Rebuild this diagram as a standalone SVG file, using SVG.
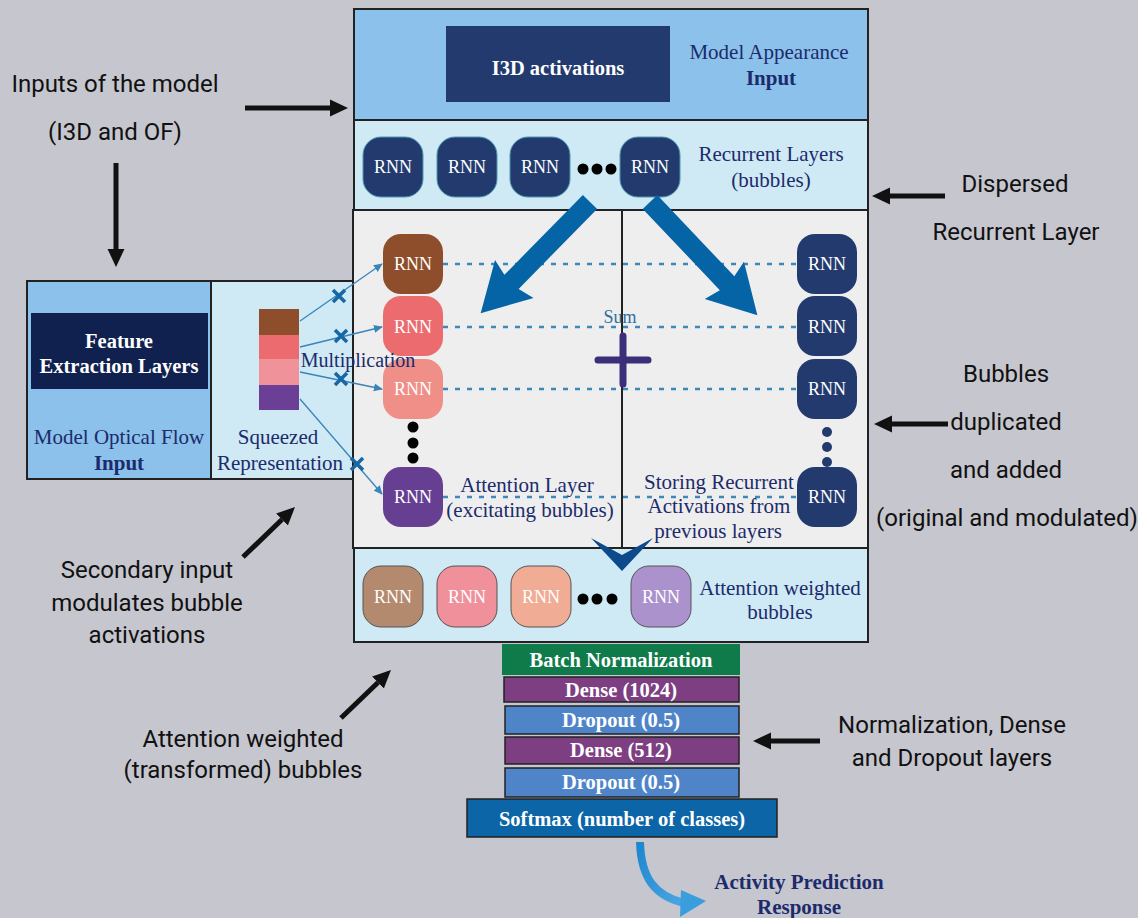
<svg xmlns="http://www.w3.org/2000/svg" width="1138" height="918" viewBox="0 0 1138 918">
<defs>
<style>
.bg{fill:#c6c6ce}
.sec{stroke:#222;stroke-width:2}
.mid{fill:#8bc1ea}
.lt{fill:#cfe9f5}
.gr{fill:#eeeeee}
.nav{fill:#1c2b6b;font-family:"Liberation Serif",serif;font-size:21px;text-anchor:middle}
.b{font-weight:bold}
.wt{fill:#ffffff;font-family:"Liberation Serif",serif;text-anchor:middle;font-size:20.5px}
.rnn{fill:#ffffff;font-family:"Liberation Serif",serif;font-size:18px;text-anchor:middle}
.ann{fill:#111;font-family:Roboto,"Noto Sans",sans-serif;font-size:24px;text-anchor:middle}
.blk{stroke:#111;stroke-width:5;fill:none}
.thin{stroke:#3a85b8;stroke-width:1.3;fill:none}
.dot{stroke:#3f87b8;stroke-width:2.5;stroke-dasharray:5 7;fill:none}
.x{stroke:#1767a5;stroke-width:3.5;fill:none}
.stk{stroke:#222;stroke-width:1.5}
</style>
<marker id="ah" viewBox="0 0 10 10" refX="0" refY="5" markerWidth="18" markerHeight="18" markerUnits="userSpaceOnUse" orient="auto"><path d="M0,0.3 L10,5 L0,9.7 z" fill="#111"/></marker>
<marker id="bh" viewBox="0 0 10 10" refX="9" refY="5" markerWidth="9" markerHeight="9" markerUnits="userSpaceOnUse" orient="auto"><path d="M0,0.5 L10,5 L0,9.5 z" fill="#3a85b8"/></marker>
<linearGradient id="cg" x1="0" y1="0" x2="1" y2="1"><stop offset="0" stop-color="#1e86cf"/><stop offset="1" stop-color="#4aa6e2"/></linearGradient>
</defs>
<rect class="bg" x="0" y="0" width="1138" height="918"/>

<g id="appearance">
<rect class="mid sec" x="354" y="9" width="514" height="111"/>
<rect x="446" y="26" width="224" height="76" fill="#233a6e"/>
<text class="wt b" x="558" y="75">I3D activations</text>
<text class="nav" x="769" y="59">Model Appearance</text>
<text class="nav b" x="771" y="85">Input</text>
</g>

<g id="recurrent">
<rect class="lt sec" x="354" y="120" width="514" height="90"/>
<g fill="#233a6e" stroke="#4a9ab0" stroke-width="1">
<rect x="363" y="137" width="60" height="60" rx="18"/>
<rect x="437" y="137" width="60" height="60" rx="18"/>
<rect x="510" y="137" width="60" height="60" rx="18"/>
<rect x="620" y="137" width="60" height="60" rx="18"/>
</g>
<text class="rnn" x="393" y="173">RNN</text>
<text class="rnn" x="467" y="173">RNN</text>
<text class="rnn" x="540" y="173">RNN</text>
<text class="rnn" x="650" y="173">RNN</text>
<circle cx="583" cy="169" r="5.5" fill="#000"/><circle cx="597" cy="169" r="5.5" fill="#000"/><circle cx="611" cy="169" r="5.5" fill="#000"/>
<text class="nav" x="771" y="161">Recurrent Layers</text>
<text class="nav" x="771" y="187">(bubbles)</text>
</g>

<g id="attention">
<rect class="gr sec" x="353" y="210" width="515" height="338"/>
<line x1="622" y1="210" x2="622" y2="548" stroke="#222" stroke-width="2"/>
<g id="dotted">
<line class="dot" x1="443" y1="264" x2="797" y2="264"/>
<line class="dot" x1="443" y1="327" x2="797" y2="327"/>
<line class="dot" x1="443" y1="389" x2="797" y2="389"/>
<line class="dot" x1="443" y1="497" x2="797" y2="497"/>
</g>
<rect x="383" y="234" width="60" height="60" rx="18" fill="#8f4e2b"/>
<rect x="383" y="296" width="60" height="60" rx="18" fill="#ec6b6f"/>
<rect x="383" y="359" width="60" height="60" rx="18" fill="#ef8f88"/>
<rect x="383" y="467" width="60" height="60" rx="18" fill="#663f93"/>
<text class="rnn" x="413" y="270">RNN</text>
<text class="rnn" x="413" y="333">RNN</text>
<text class="rnn" x="413" y="395">RNN</text>
<text class="rnn" x="413" y="503">RNN</text>
<circle cx="413" cy="427" r="5.5" fill="#000"/><circle cx="413" cy="443" r="5.5" fill="#000"/><circle cx="413" cy="458" r="5.5" fill="#000"/>
<g fill="#233a6e">
<rect x="797" y="234" width="60" height="60" rx="18"/>
<rect x="797" y="296" width="60" height="60" rx="18"/>
<rect x="797" y="359" width="60" height="60" rx="18"/>
<rect x="797" y="467" width="60" height="60" rx="18"/>
<circle cx="827" cy="432" r="5"/><circle cx="827" cy="447" r="5"/><circle cx="827" cy="462" r="5"/>
</g>
<text class="rnn" x="827" y="270">RNN</text>
<text class="rnn" x="827" y="333">RNN</text>
<text class="rnn" x="827" y="395">RNN</text>
<text class="rnn" x="827" y="503">RNN</text>
<text x="620" y="323" fill="#2f6f9f" font-family="Liberation Serif,serif" font-size="18" text-anchor="middle">Sum</text>
<path d="M623,336 V384 M598,360 H648" stroke="#3d2e7a" stroke-width="7" stroke-linecap="round"/>
<text class="nav" x="527" y="492">Attention Layer</text>
<text class="nav" x="530" y="517">(excitating bubbles)</text>
<text class="nav" x="719" y="489">Storing Recurrent</text>
<text class="nav" x="719" y="513">Activations from</text>
<text class="nav" x="718" y="538">previous layers</text>
</g>

<g id="weighted">
<rect class="lt sec" x="354" y="548" width="514" height="94"/>
<g stroke="#555" stroke-width="1">
<rect x="363" y="566" width="60" height="61" rx="18" fill="#b48a6e"/>
<rect x="437" y="566" width="60" height="61" rx="18" fill="#f0909b"/>
<rect x="511" y="566" width="60" height="61" rx="18" fill="#f0ac94"/>
<rect x="631" y="566" width="60" height="61" rx="18" fill="#ab92cc"/>
</g>
<text class="rnn" x="393" y="603">RNN</text>
<text class="rnn" x="467" y="603">RNN</text>
<text class="rnn" x="541" y="603">RNN</text>
<text class="rnn" x="661" y="603">RNN</text>
<circle cx="583" cy="599" r="5.5" fill="#000"/><circle cx="597" cy="599" r="5.5" fill="#000"/><circle cx="612" cy="599" r="5.5" fill="#000"/>
<text class="nav" x="780" y="595">Attention weighted</text>
<text class="nav" x="780" y="619">bubbles</text>
</g>

<g id="optical">
<rect class="mid sec" x="27" y="281" width="184" height="198"/>
<rect x="31" y="313" width="177" height="76" fill="#10214f"/>
<text class="wt b" x="119" y="348">Feature</text>
<text class="wt b" x="119" y="373">Extraction Layers</text>
<text class="nav" x="119" y="444">Model Optical Flow</text>
<text class="nav b" x="119" y="470">Input</text>
</g>

<g id="squeezed">
<rect class="lt sec" x="211" y="281" width="142" height="198"/>
<rect x="259" y="309" width="40" height="26" fill="#8f4e2b"/>
<rect x="259" y="335" width="40" height="24" fill="#ec6b6f"/>
<rect x="259" y="359" width="40" height="26" fill="#f0929a"/>
<rect x="259" y="385" width="40" height="25" fill="#6a3f95"/>
<text class="nav" x="278" y="444">Squeezed</text>
<text class="nav" x="280" y="470">Representation</text>
</g>

<g id="connectors">
<path class="thin" d="M300,321 L382,264" marker-end="url(#bh)"/>
<path class="thin" d="M300,347 L382,327" marker-end="url(#bh)"/>
<path class="thin" d="M300,372 L382,389" marker-end="url(#bh)"/>
<path class="thin" d="M300,399 L382,494" marker-end="url(#bh)"/>
<path class="x" d="M333,290 L345,302 M345,290 L333,302"/>
<path class="x" d="M335,330 L347,342 M347,330 L335,342"/>
<path class="x" d="M335,373 L347,385 M347,373 L335,385"/>
<path class="x" d="M351,458 L363,470 M363,458 L351,470"/>
<polygon fill="#0464a5" transform="translate(590,202) rotate(134.5)" points="0,-10 112,-10 108,-27 156,0 108,27 112,10 0,10"/>
<polygon fill="#0464a5" transform="translate(650,202) rotate(46.5)" points="0,-10 112,-10 108,-27 156,0 108,27 112,10 0,10"/>
<polygon fill="#0d4a8c" points="591,538 622,555 653,538 622,571"/>
<line class="blk" x1="245" y1="108" x2="330" y2="108" marker-end="url(#ah)"/>
<line class="blk" x1="116" y1="163" x2="116" y2="249" marker-end="url(#ah)"/>
<line class="blk" x1="945" y1="196" x2="890" y2="196" marker-end="url(#ah)"/>
<line class="blk" x1="948" y1="424" x2="892" y2="424" marker-end="url(#ah)"/>
<line class="blk" x1="243" y1="557" x2="282" y2="519.5" marker-end="url(#ah)"/>
<line class="blk" x1="341" y1="718" x2="378" y2="682.5" marker-end="url(#ah)"/>
<line class="blk" x1="820" y1="741" x2="771" y2="741" marker-end="url(#ah)"/>
<path d="M640,842 C641,878 655,896 684,903" stroke="url(#cg)" stroke-width="8" fill="none"/>
<polygon fill="#3a9ddd" points="681,890 706,901 680,917"/>
</g>

<g id="head">
<rect x="502" y="644" width="238" height="31" fill="#0f7a4a"/>
<text class="wt b" x="621" y="667">Batch Normalization</text>
<rect class="stk" x="504" y="677" width="235" height="25" fill="#7d3f82"/>
<text class="wt b" x="621" y="697">Dense (1024)</text>
<rect class="stk" x="505" y="706" width="234" height="28" fill="#4f85c8"/>
<text class="wt b" x="621" y="727">Dropout (0.5)</text>
<rect class="stk" x="505" y="737" width="234" height="27" fill="#7d3f82"/>
<text class="wt b" x="621" y="757">Dense (512)</text>
<rect class="stk" x="505" y="768" width="234" height="29" fill="#4f85c8"/>
<text class="wt b" x="621" y="789">Dropout (0.5)</text>
<rect class="stk" x="467" y="799" width="310" height="38" fill="#0c65a6"/>
<text class="wt b" x="622" y="826">Softmax (number of classes)</text>
<text class="nav b" x="799" y="889" font-size="20">Activity Prediction</text>
<text class="nav b" x="799" y="914" font-size="20">Response</text>
</g>

<g id="annotations">
<text class="ann" x="115" y="92">Inputs of the model</text>
<text class="ann" x="115" y="140">(I3D and OF)</text>
<text class="ann" x="1015" y="192">Dispersed</text>
<text class="ann" x="1016" y="240">Recurrent Layer</text>
<text class="ann" x="1006" y="382">Bubbles</text>
<text class="ann" x="1006" y="430">duplicated</text>
<text class="ann" x="1006" y="478">and added</text>
<text class="ann" x="1007" y="526">(original and modulated)</text>
<text class="ann" x="147" y="578">Secondary input</text>
<text class="ann" x="147" y="611">modulates bubble</text>
<text class="ann" x="147" y="643">activations</text>
<text class="ann" x="243" y="747">Attention weighted</text>
<text class="ann" x="243" y="778">(transformed) bubbles</text>
<text class="ann" x="952" y="733">Normalization, Dense</text>
<text class="ann" x="952" y="766">and Dropout layers</text>
</g>
<text x="358" y="367" fill="#1c2b6b" font-family="Liberation Serif,serif" font-size="20" text-anchor="middle">Multiplication</text>
</svg>
